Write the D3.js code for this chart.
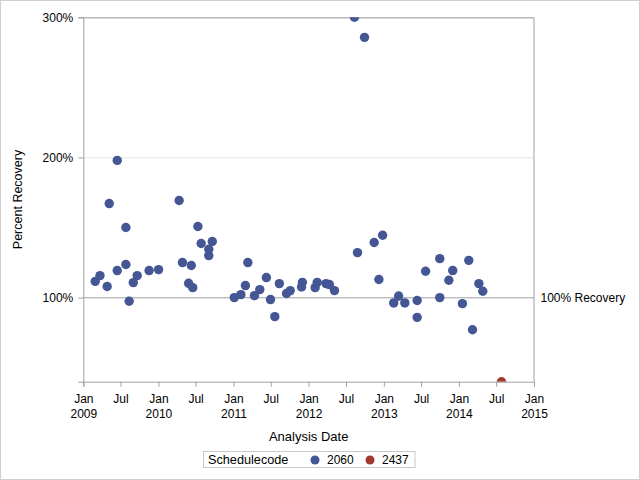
<!DOCTYPE html>
<html>
<head>
<meta charset="utf-8">
<script src="https://cdn.jsdelivr.net/npm/d3@7"></script>
<style>
  body { margin: 0; background: #fff; }
  text { font-family: 'Liberation Sans', Arial, sans-serif; fill: #000; }
</style>
</head>
<body>
<div id="chart"></div>
<script>
// schedulecode 2060
const dates2060 = [
  '2009-02-28', '2009-03-23', '2009-04-27', '2009-05-07', '2009-06-15', '2009-06-15',
  '2009-07-27', '2009-07-27', '2009-08-12', '2009-09-01', '2009-09-20', '2009-11-17',
  '2010-01-02', '2010-04-12', '2010-04-28', '2010-05-28', '2010-06-10', '2010-06-17',
  '2010-07-12', '2010-07-28', '2010-09-03', '2010-09-03', '2010-09-20',
  '2011-01-05', '2011-02-06', '2011-02-28', '2011-03-12', '2011-04-13', '2011-05-09',
  '2011-06-10', '2011-06-30', '2011-07-21', '2011-08-12', '2011-09-16', '2011-10-04',
  '2011-11-28', '2011-12-02', '2012-02-02', '2012-02-12', '2012-03-26', '2012-04-11',
  '2012-05-06', '2012-08-11', '2012-08-26', '2012-09-29', '2012-11-15', '2012-12-08',
  '2012-12-26', '2013-02-18', '2013-03-14', '2013-04-13', '2013-06-12', '2013-06-12',
  '2013-07-23', '2013-09-30', '2013-09-30', '2013-11-13', '2013-12-02', '2014-01-18',
  '2014-02-18', '2014-03-08', '2014-04-08', '2014-04-27'
]
const values2060 = [
  111.6, 115.7, 107.9, 167.1, 119.3, 197.9,
  150.0, 123.6, 97.4, 110.7, 115.7, 119.3,
  120.0, 169.3, 125.0, 110.2, 122.9, 107.1,
  150.7, 138.6, 134.5, 130.0, 140.0,
  100.0, 102.1, 108.6, 125.0, 101.4, 105.7,
  114.3, 98.6, 86.4, 110.0, 102.9, 105.0,
  107.6, 110.9, 107.1, 110.9, 110.0, 109.3,
  105.0, 300.0, 132.1, 285.7, 139.3, 112.9,
  144.5, 96.2, 101.1, 96.2, 97.9, 85.9,
  118.8, 127.8, 100.0, 112.4, 119.3, 95.7,
  126.6, 77.1, 110.0, 104.5
]
// schedulecode 2437
const dates2437 = ['2014-07-27']
const values2437 = [40.0]

const codes = ['2060', '2437']
const colors = ['#445694', '#a23a2e']
const yTicks = [100, 200, 300]
const refValue = 100

const W = 640
const H = 480
const margin = { top: 17.3, right: 106, bottom: 98.3, left: 83.3 }
const width = W - margin.left - margin.right
const height = H - margin.top - margin.bottom

const parse = d3.timeParse('%Y-%m-%d')
const points = []
dates2060.forEach((d, i) => points.push({ date: parse(d), value: values2060[i], code: '2060' }))
dates2437.forEach((d, i) => points.push({ date: parse(d), value: values2437[i], code: '2437' }))

const svg = d3.select('#chart')
  .append('svg')
  .attr('width', W)
  .attr('height', H)

// outer border
svg.append('rect')
  .attr('x', 0.5)
  .attr('y', 0.5)
  .attr('width', W - 1)
  .attr('height', H - 1)
  .attr('fill', '#fff')
  .attr('stroke', '#d0d0d0')

const g = svg.append('g')
  .attr('transform', 'translate(' + margin.left + ',' + margin.top + ')')

const x = d3.scaleTime()
  .domain([new Date(2009, 0, 1), new Date(2015, 0, 1)])
  .range([0, width])

const y = d3.scaleLinear()
  .domain([40, 300])
  .range([height, 0])

const color = d3.scaleOrdinal().domain(codes).range(colors)

// grid lines
g.selectAll('.grid')
  .data(yTicks.filter(t => t !== refValue))
  .enter()
  .append('line')
  .attr('x1', 0)
  .attr('x2', width)
  .attr('y1', d => Math.round(y(d)) + 0.5)
  .attr('y2', d => Math.round(y(d)) + 0.5)
  .attr('stroke', '#e4e4e4')

// reference line
g.append('line')
  .attr('x1', 0)
  .attr('x2', width)
  .attr('y1', Math.round(y(refValue)) + 0.5)
  .attr('y2', Math.round(y(refValue)) + 0.5)
  .attr('stroke', '#a0a0a0')

g.append('text')
  .attr('x', width + 6.5)
  .attr('y', y(refValue))
  .attr('dy', '0.35em')
  .attr('font-size', 12)
  .text('100% Recovery')

// frame top and right
g.append('path')
  .attr('d', 'M0,0.5H' + width + 'V' + height)
  .attr('fill', 'none')
  .attr('stroke', '#a0a0a0')

g.append('clipPath')
  .attr('id', 'clip')
  .append('rect')
  .attr('width', width)
  .attr('height', height)

g.append('g')
  .attr('clip-path', 'url(#clip)')
  .selectAll('circle')
  .data(points)
  .enter()
  .append('circle')
  .attr('cx', d => x(d.date))
  .attr('cy', d => y(d.value))
  .attr('r', 4.7)
  .attr('fill', d => color(d.code))

// axes
const yAxis = d3.axisLeft(y)
  .tickValues(yTicks)
  .tickSize(5)
  .tickPadding(5)
  .tickFormat(d => d + '%')

const yG = g.append('g')
  .attr('class', 'axis y-axis')
  .call(yAxis)
yG.select('.domain').attr('stroke', '#a0a0a0')
yG.selectAll('line').attr('stroke', '#a0a0a0')
yG.selectAll('text').attr('font-size', 12).attr('font-family', "'Liberation Sans', Arial, sans-serif")

const xTicks = d3.timeMonth.every(6).range(new Date(2009, 0, 1), new Date(2015, 0, 2))
const xAxis = d3.axisBottom(x)
  .tickValues(xTicks)
  .tickSize(5)
  .tickFormat('')

const xG = g.append('g')
  .attr('class', 'axis x-axis')
  .attr('transform', 'translate(0,' + height + ')')
  .call(xAxis)
xG.select('.domain').attr('stroke', '#a0a0a0')
xG.selectAll('line').attr('stroke', '#a0a0a0')

xG.selectAll('.tick')
  .append('text')
  .attr('y', 21.5)
  .attr('text-anchor', 'middle')
  .attr('font-size', 12)
  .text(d => d.getMonth() === 0 ? 'Jan' : 'Jul')

xG.selectAll('.tick')
  .filter(d => d.getMonth() === 0)
  .append('text')
  .attr('y', 36.5)
  .attr('text-anchor', 'middle')
  .attr('font-size', 12)
  .text(d => d.getFullYear())

g.append('text')
  .attr('x', width / 2)
  .attr('y', height + 59.5)
  .attr('text-anchor', 'middle')
  .attr('font-size', 13)
  .text('Analysis Date')

g.append('text')
  .attr('transform', 'translate(' + (-61.5) + ',' + (height / 2) + ') rotate(-90)')
  .attr('text-anchor', 'middle')
  .attr('font-size', 12.5)
  .text('Percent Recovery')

// legend
const legend = svg.append('g')
  .attr('transform', 'translate(203.5,451.5)')

legend.append('rect')
  .attr('width', 211.5)
  .attr('height', 16)
  .attr('fill', '#fff')
  .attr('stroke', '#c8c8c8')

legend.append('text')
  .attr('x', 4.5)
  .attr('y', 12.5)
  .attr('font-size', 12.7)
  .text('Schedulecode')

const legendX = [111.5, 166.5]
const items = legend.selectAll('.item')
  .data(codes)
  .enter()
  .append('g')
  .attr('transform', (d, i) => 'translate(' + legendX[i] + ',0)')

items.append('circle')
  .attr('cx', 0)
  .attr('cy', 8.5)
  .attr('r', 4.5)
  .attr('fill', d => color(d))

items.append('text')
  .attr('x', 12)
  .attr('y', 12.5)
  .attr('font-size', 12)
  .text(d => d)
</script>
</body>
</html>
